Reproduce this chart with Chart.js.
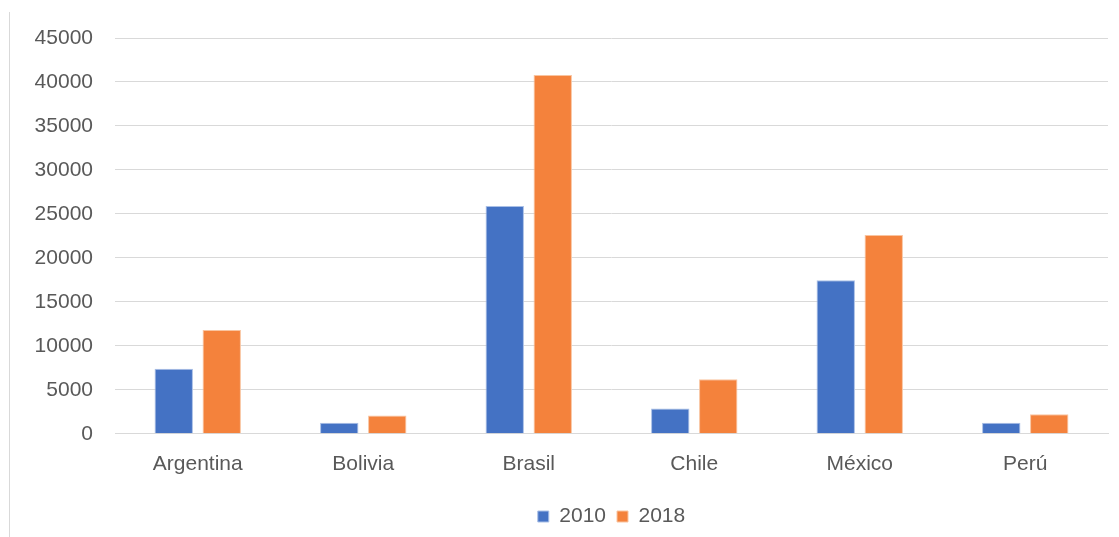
<!DOCTYPE html>
<html>
<head>
<meta charset="utf-8">
<script src="https://cdn.jsdelivr.net/npm/chart.js@4.4.0/dist/chart.umd.min.js"></script>
<style>
  html, body { margin: 0; padding: 0; background: #fff; }
  #wrap { position: relative; width: 1119px; height: 537px; }
  #frame { position: absolute; left: 9px; top: 12px; bottom: 0; border-left: 1px solid #d9d9d9; }
</style>
</head>
<body>
<div id="wrap">
  <div id="frame"></div>
  <canvas id="paisesChart" width="1119" height="537"></canvas>
</div>
<script>
// datos
const paises = ["Argentina", "Bolivia", "Brasil", "Chile", "México", "Perú"];
const valores2010 = [7400, 1250, 25900, 2870, 17450, 1250];
const valores2018 = [11800, 2080, 40800, 6200, 22600, 2220];
const serieLabels = ["2010", "2018"];

const ctx = document.getElementById("paisesChart").getContext("2d");
const textColor = "#595959";
const gridColor = "#d9d9d9";
const fuente = { family: "Liberation Sans", size: 21 };

new Chart(ctx, {
    type: "bar",
    data: {
        labels: paises,
        datasets: [{
            label: serieLabels[0],
            data: valores2010,
            backgroundColor: "#4472c4",
            borderColor: "#a9bfe6",
            borderWidth: 1,
            categoryPercentage: 0.58,
            barPercentage: 0.8
        }, {
            label: serieLabels[1],
            data: valores2018,
            backgroundColor: "#f4823c",
            borderColor: "#f9c4a0",
            borderWidth: 1,
            categoryPercentage: 0.58,
            barPercentage: 0.8
        }]
    },
    options: {
        responsive: false,
        animation: false,
        layout: { padding: { left: 10, right: 11, top: 38, bottom: 0 } },
        plugins: {
            tooltip: { enabled: false },
            legend: {
                position: "bottom",
                fullSize: false,
                labels: {
                    color: textColor,
                    font: fuente,
                    boxWidth: 11,
                    boxHeight: 11,
                    padding: 11
                }
            }
        },
        scales: {
            x: {
                grid: { display: false, drawTicks: false },
                border: { color: gridColor, width: 1 },
                ticks: {
                    color: textColor,
                    font: fuente,
                    padding: 18
                }
            },
            y: {
                min: 0,
                max: 45000,
                afterFit: (scale) => { scale.width = 105; },
                grid: { color: gridColor, lineWidth: 1, drawTicks: false },
                border: { display: false },
                ticks: {
                    stepSize: 5000,
                    color: textColor,
                    font: fuente,
                    padding: 22,
                    callback: (value) => String(value)
                }
            }
        }
    }
});
</script>
</body>
</html>
